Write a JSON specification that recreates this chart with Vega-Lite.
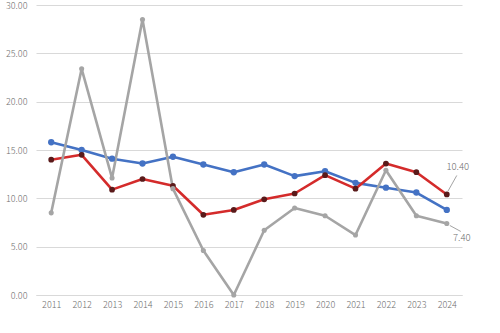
{
  "$schema": "https://vega.github.io/schema/vega-lite/v6.json",
  "width": 426,
  "height": 290,
  "autosize": {"type": "none"},
  "padding": {"left": 36, "top": 5, "right": 38, "bottom": 38},
  "background": "white",
  "config": {
    "view": {"stroke": null},
    "font": "Noto Sans CJK SC"
  },
  "data": {
    "values": [
      {"year": 2011, "series": "S1", "value": 15.8},
      {"year": 2012, "series": "S1", "value": 15.0},
      {"year": 2013, "series": "S1", "value": 14.1},
      {"year": 2014, "series": "S1", "value": 13.6},
      {"year": 2015, "series": "S1", "value": 14.3},
      {"year": 2016, "series": "S1", "value": 13.5},
      {"year": 2017, "series": "S1", "value": 12.7},
      {"year": 2018, "series": "S1", "value": 13.5},
      {"year": 2019, "series": "S1", "value": 12.3},
      {"year": 2020, "series": "S1", "value": 12.8},
      {"year": 2021, "series": "S1", "value": 11.6},
      {"year": 2022, "series": "S1", "value": 11.1},
      {"year": 2023, "series": "S1", "value": 10.6},
      {"year": 2024, "series": "S1", "value": 8.8},
      {"year": 2011, "series": "S2", "value": 14.0},
      {"year": 2012, "series": "S2", "value": 14.5},
      {"year": 2013, "series": "S2", "value": 10.9},
      {"year": 2014, "series": "S2", "value": 12.0},
      {"year": 2015, "series": "S2", "value": 11.3},
      {"year": 2016, "series": "S2", "value": 8.3},
      {"year": 2017, "series": "S2", "value": 8.8},
      {"year": 2018, "series": "S2", "value": 9.9},
      {"year": 2019, "series": "S2", "value": 10.5},
      {"year": 2020, "series": "S2", "value": 12.4},
      {"year": 2021, "series": "S2", "value": 11.0},
      {"year": 2022, "series": "S2", "value": 13.6},
      {"year": 2023, "series": "S2", "value": 12.7},
      {"year": 2024, "series": "S2", "value": 10.4, "label": "10.40"},
      {"year": 2011, "series": "S3", "value": 8.5},
      {"year": 2012, "series": "S3", "value": 23.4},
      {"year": 2013, "series": "S3", "value": 12.1},
      {"year": 2014, "series": "S3", "value": 28.5},
      {"year": 2015, "series": "S3", "value": 11.0},
      {"year": 2016, "series": "S3", "value": 4.6},
      {"year": 2017, "series": "S3", "value": 0.0},
      {"year": 2018, "series": "S3", "value": 6.7},
      {"year": 2019, "series": "S3", "value": 9.0},
      {"year": 2020, "series": "S3", "value": 8.2},
      {"year": 2021, "series": "S3", "value": 6.2},
      {"year": 2022, "series": "S3", "value": 12.9},
      {"year": 2023, "series": "S3", "value": 8.2},
      {"year": 2024, "series": "S3", "value": 7.4, "label": "7.40"}
    ]
  },
  "encoding": {
    "x": {
      "field": "year",
      "type": "quantitative",
      "scale": {"domain": [2010.5, 2024.5], "nice": false, "zero": false},
      "axis": {
        "title": null,
        "values": [2011, 2012, 2013, 2014, 2015, 2016, 2017, 2018, 2019, 2020, 2021, 2022, 2023, 2024],
        "format": "d",
        "grid": false,
        "ticks": false,
        "domainColor": "#d9d9d9",
        "labelColor": "#6e6e6e",
        "labelFontSize": 9,
        "labelFontWeight": 300,
        "labelPadding": 5,
        "labelFlush": false
      }
    },
    "y": {
      "field": "value",
      "type": "quantitative",
      "scale": {"domain": [0, 30], "nice": false},
      "axis": {
        "title": null,
        "values": [0, 5, 10, 15, 20, 25, 30],
        "format": ".2f",
        "domain": false,
        "ticks": false,
        "gridColor": "#d9d9d9",
        "gridWidth": 1,
        "labelColor": "#6e6e6e",
        "labelFontSize": 9,
        "labelFontWeight": 300,
        "labelPadding": 9
      }
    }
  },
  "layer": [
    {
      "mark": {"type": "line", "strokeWidth": 2.6, "strokeJoin": "round"},
      "encoding": {
        "color": {
          "field": "series",
          "type": "nominal",
          "scale": {"domain": ["S1", "S2", "S3"], "range": ["#4472C4", "#D42B2B", "#A5A5A5"]},
          "legend": null
        }
      }
    },
    {
      "mark": {"type": "point", "filled": true, "opacity": 1},
      "encoding": {
        "fill": {
          "field": "series",
          "type": "nominal",
          "scale": {"domain": ["S1", "S2", "S3"], "range": ["#4472C4", "#5A1A1A", "#A5A5A5"]},
          "legend": null
        },
        "size": {
          "field": "series",
          "type": "nominal",
          "scale": {"domain": ["S1", "S2", "S3"], "range": [40, 26, 40]},
          "legend": null
        }
      }
    },
    {
      "transform": [{"filter": "datum.series === 'S2' && datum.year === 2024"}],
      "mark": {"type": "rule", "color": "#8c8c8c", "strokeWidth": 0.8, "xOffset": 1, "yOffset": -3, "x2Offset": 10, "y2Offset": -19},
      "encoding": {
        "x2": {"field": "year"},
        "y2": {"field": "value"}
      }
    },
    {
      "transform": [{"filter": "datum.series === 'S3' && datum.year === 2024"}],
      "mark": {"type": "rule", "color": "#8c8c8c", "strokeWidth": 0.8, "xOffset": 3, "yOffset": 2, "x2Offset": 14, "y2Offset": 8},
      "encoding": {
        "x2": {"field": "year"},
        "y2": {"field": "value"}
      }
    },
    {
      "transform": [{"filter": "datum.series === 'S2' && datum.year === 2024"}],
      "mark": {"type": "text", "dx": 11, "dy": -27, "fontSize": 9.5, "fontWeight": 300, "color": "#6e6e6e"},
      "encoding": {"text": {"field": "label"}}
    },
    {
      "transform": [{"filter": "datum.series === 'S3' && datum.year === 2024"}],
      "mark": {"type": "text", "dx": 15, "dy": 15, "fontSize": 9.5, "fontWeight": 300, "color": "#6e6e6e"},
      "encoding": {"text": {"field": "label"}}
    }
  ]
}
